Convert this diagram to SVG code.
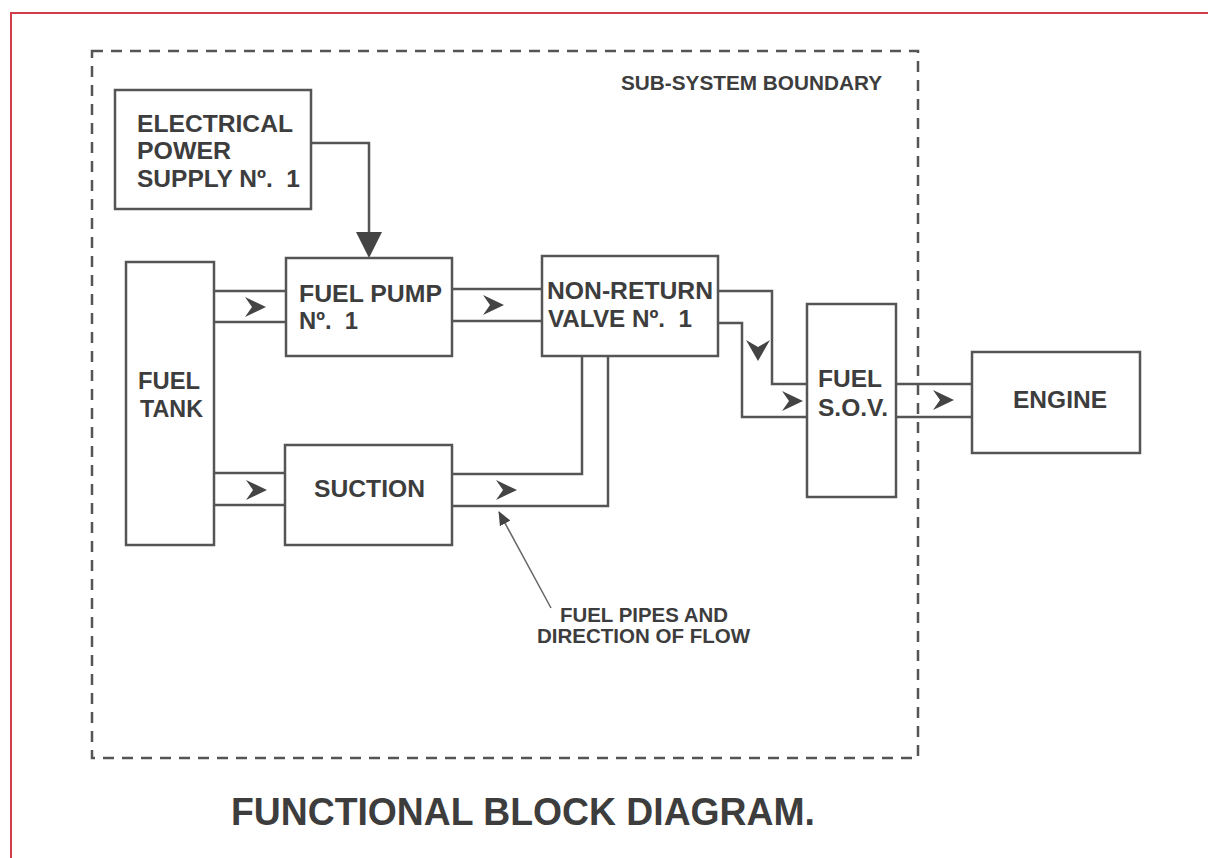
<svg xmlns="http://www.w3.org/2000/svg" width="1208" height="858" viewBox="0 0 1208 858">
<style>
.box{fill:#fff;stroke:#555;stroke-width:2.5}
.pipe{fill:none;stroke:#555;stroke-width:2.5}
.t{font-family:"Liberation Sans",Arial,sans-serif;font-weight:bold;fill:#3d3d3d;font-size:24px;white-space:pre}
.s{font-size:20px}
.chev{fill:#444}
</style>
<defs>
<path id="chevR" d="M0,0 L-21,-10 L-14,0 L-21,10 Z"/>
<path id="chevD" d="M0,0 L-12,-21 L0,-14 L12,-21 Z"/>
<marker id="ptr" markerWidth="14" markerHeight="12" refX="13" refY="6" orient="auto" markerUnits="userSpaceOnUse">
<path d="M0,0 L14,6 L0,12 Z" fill="#444"/>
</marker>
</defs>
<rect width="1208" height="858" fill="#fff"/>
<path d="M11,858 V13 H1208" fill="none" stroke="#d03c48" stroke-width="2"/>
<g id="boundary">
<rect x="92" y="51" width="826" height="707" fill="none" stroke="#555" stroke-width="2.5" stroke-dasharray="11,8"/>
<text class="t s" x="621" y="90" textLength="261" lengthAdjust="spacingAndGlyphs">SUB-SYSTEM BOUNDARY</text>
</g>
<g id="connectors">
<path class="pipe" d="M311,143 H369 V234"/>
<path d="M356,232 L382,232 L369,258 Z" fill="#444"/>
<path class="pipe" d="M214,291 H286 M214,322 H286"/>
<path class="pipe" d="M452,289 H542 M452,321 H542"/>
<path class="pipe" d="M214,473 H285 M214,505 H285"/>
<path class="pipe" d="M452,474 H582 V356 M452,506 H608 V356"/>
<path class="pipe" d="M718,291 H772 V384 H807 M718,323 H742 V417 H807"/>
<path class="pipe" d="M896,384 H972 M896,417 H972"/>
<use href="#chevR" class="chev" x="266" y="307"/>
<use href="#chevR" class="chev" x="504" y="305"/>
<use href="#chevR" class="chev" x="267" y="490"/>
<use href="#chevR" class="chev" x="517" y="490"/>
<use href="#chevD" class="chev" x="758" y="361"/>
<use href="#chevR" class="chev" x="803" y="401"/>
<use href="#chevR" class="chev" x="954" y="400"/>
<line x1="551" y1="608" x2="499" y2="512" stroke="#666" stroke-width="1.5" marker-end="url(#ptr)"/>
</g>
<g id="electrical">
<rect class="box" x="115" y="90" width="196" height="119"/>
<text class="t" x="137" y="132" textLength="156" lengthAdjust="spacingAndGlyphs">ELECTRICAL</text>
<text class="t" x="137" y="159" textLength="94" lengthAdjust="spacingAndGlyphs">POWER</text>
<text class="t" x="137" y="187" textLength="163" lengthAdjust="spacingAndGlyphs">SUPPLY Nº.  1</text>
</g>
<g id="fuel-tank">
<rect class="box" x="126" y="262" width="88" height="283"/>
<text class="t" x="138" y="389" textLength="62" lengthAdjust="spacingAndGlyphs">FUEL</text>
<text class="t" x="140" y="417" textLength="63" lengthAdjust="spacingAndGlyphs">TANK</text>
</g>
<g id="fuel-pump">
<rect class="box" x="286" y="258" width="166" height="98"/>
<text class="t" x="299" y="302" textLength="143" lengthAdjust="spacingAndGlyphs">FUEL PUMP</text>
<text class="t" x="299" y="329" textLength="59" lengthAdjust="spacingAndGlyphs">Nº.  1</text>
</g>
<g id="suction">
<rect class="box" x="285" y="445" width="167" height="100"/>
<text class="t" x="314" y="497" textLength="111" lengthAdjust="spacingAndGlyphs">SUCTION</text>
</g>
<g id="non-return-valve">
<rect class="box" x="542" y="256" width="176" height="100"/>
<text class="t" x="547" y="299" textLength="166" lengthAdjust="spacingAndGlyphs">NON-RETURN</text>
<text class="t" x="548" y="327" textLength="144" lengthAdjust="spacingAndGlyphs">VALVE Nº.  1</text>
</g>
<g id="fuel-sov">
<rect class="box" x="807" y="304" width="89" height="193"/>
<text class="t" x="818" y="387" textLength="64" lengthAdjust="spacingAndGlyphs">FUEL</text>
<text class="t" x="818" y="416" textLength="70" lengthAdjust="spacingAndGlyphs">S.O.V.</text>
</g>
<g id="engine">
<rect class="box" x="972" y="352" width="168" height="101"/>
<text class="t" x="1013" y="408" textLength="94" lengthAdjust="spacingAndGlyphs">ENGINE</text>
</g>
<g id="pipes-label">
<text class="t s" x="560" y="622" textLength="168" lengthAdjust="spacingAndGlyphs">FUEL PIPES AND</text>
<text class="t s" x="537" y="643" textLength="213" lengthAdjust="spacingAndGlyphs">DIRECTION OF FLOW</text>
</g>
<text class="t" x="231" y="825" style="font-size:38px" textLength="584" lengthAdjust="spacingAndGlyphs">FUNCTIONAL BLOCK DIAGRAM.</text>
</svg>
